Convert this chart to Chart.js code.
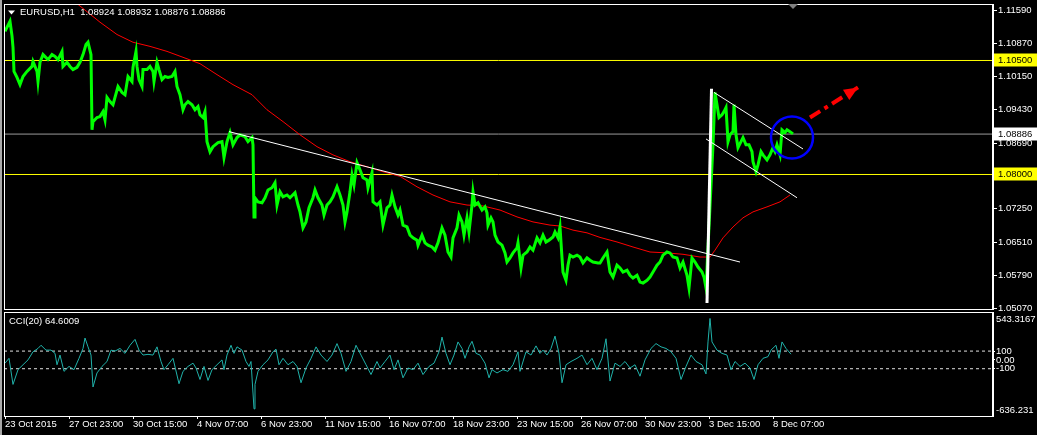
<!DOCTYPE html>
<html><head><meta charset="utf-8">
<script src="https://cdn.jsdelivr.net/npm/chart.js@4.4.1/dist/chart.umd.min.js"></script>
<style>
html,body{margin:0;padding:0;background:#000;width:1037px;height:435px;overflow:hidden;}
#c1{position:absolute;left:0;top:0;}
#c2{position:absolute;left:0;top:311px;}
#frame{position:absolute;left:0;top:0;width:2px;height:435px;background:#a8a8a8;}
</style></head><body>
<canvas id="c1" width="1037" height="311"></canvas>
<canvas id="c2" width="1037" height="124"></canvas>
<div id="frame"></div>
<script>
// ---------- DATA ----------
const symbolHeader = 'EURUSD,H1  1.08924 1.08932 1.08876 1.08886';
const cciTitle = 'CCI(20) 64.6009';

const xTickBars = [0,64,128,192,256,320,384,448,512,576,640,704,768];
const xTickLabels = ['23 Oct 2015','27 Oct 23:00','30 Oct 15:00','4 Nov 07:00','6 Nov 23:00','11 Nov 15:00','16 Nov 07:00','18 Nov 23:00','23 Nov 15:00','26 Nov 07:00','30 Nov 23:00','3 Dec 15:00','8 Dec 07:00'];

const priceTicks = [1.1159,1.1087,1.1015,1.0943,1.0869,1.0725,1.0651,1.0579,1.0507];
const priceMin = 1.0505, priceMax = 1.11739;
const yellowLevels = [1.105, 1.08];
const currentPrice = 1.08886;

const priceBars = [0,5,7,8,9,12,15,18,22,27,28,32,33,35,38,43,47,50,53,57,58,62,65,68,72,75,78,81,83,86,87,88,92,95,98,100,102,105,108,110,113,117,120,123,127,128,131,132,134,137,138,142,145,148,149,152,154,157,160,163,167,170,172,175,178,180,183,187,190,193,195,198,200,202,205,208,213,217,219,222,225,228,232,235,240,243,247,248,249,250,253,257,260,263,267,270,272,275,278,282,285,290,293,295,298,301,304,308,310,313,317,319,322,325,328,332,335,338,340,342,345,347,349,352,355,358,362,363,367,368,372,375,378,382,385,387,390,393,395,398,402,405,408,412,413,417,420,423,427,430,433,437,440,443,446,448,452,454,457,459,462,464,467,468,470,473,477,480,482,483,486,488,490,493,497,500,502,505,508,512,513,516,518,522,525,528,532,535,538,541,544,548,550,553,555,557,558,561,563,565,568,572,575,578,582,585,588,593,595,598,602,605,608,612,615,618,622,625,628,632,635,638,642,645,648,652,655,658,662,665,668,672,675,678,682,684,687,690,693,697,699,701,708,710,712,714,717,719,721,723,725,728,729,731,733,736,738,741,744,747,748,751,753,756,758,762,765,768,770,772,775,777,780,782,785,788];
const priceValues = [1.1114,1.1136,1.1104,1.1079,1.1026,1.1013,1.0997,1.1015,1.1026,1.1037,1.1048,1.1026,1.1004,1.1046,1.1063,1.1052,1.1063,1.1059,1.1052,1.1070,1.1037,1.1046,1.1037,1.1030,1.1035,1.1046,1.1063,1.1085,1.1090,1.1063,1.0898,1.0916,1.0925,1.0927,1.0938,1.0920,1.0969,1.0960,1.0953,1.0969,1.0993,1.0980,1.0975,1.1015,1.1004,1.1035,1.1070,1.1037,1.1008,1.0993,1.1030,1.1030,1.1037,1.1026,1.1004,1.1046,1.1030,1.1008,1.1015,1.1013,1.1015,1.1026,1.0993,1.0975,1.0942,1.0953,1.0960,1.0953,1.0942,1.0949,1.0931,1.0925,1.0938,1.0872,1.0850,1.0861,1.0870,1.0872,1.0837,1.0872,1.0892,1.0865,1.0881,1.0887,1.0883,1.0872,1.0881,1.0865,1.0707,1.0749,1.0740,1.0738,1.0749,1.0766,1.0771,1.0782,1.0733,1.0762,1.0751,1.0755,1.0749,1.0760,1.0733,1.0718,1.0683,1.0696,1.0727,1.0749,1.0766,1.0749,1.0733,1.0711,1.0733,1.0740,1.0751,1.0773,1.0755,1.0733,1.0696,1.0718,1.0762,1.0799,1.0777,1.0826,1.0810,1.0793,1.0788,1.0771,1.0804,1.0740,1.0733,1.0740,1.0689,1.0727,1.0733,1.0755,1.0729,1.0711,1.0722,1.0689,1.0685,1.0667,1.0661,1.0656,1.0645,1.0667,1.0650,1.0645,1.0641,1.0634,1.0650,1.0683,1.0667,1.0630,1.0619,1.0661,1.0683,1.0711,1.0696,1.0667,1.0705,1.0674,1.0733,1.0762,1.0733,1.0738,1.0722,1.0729,1.0716,1.0689,1.0705,1.0696,1.0667,1.0652,1.0645,1.0628,1.0608,1.0617,1.0628,1.0639,1.0650,1.0595,1.0623,1.0630,1.0641,1.0634,1.0661,1.0650,1.0667,1.0652,1.0656,1.0663,1.0674,1.0661,1.0685,1.0617,1.0586,1.0568,1.0601,1.0623,1.0619,1.0623,1.0619,1.0606,1.0617,1.0612,1.0608,1.0606,1.0606,1.0617,1.0630,1.0586,1.0575,1.0601,1.0595,1.0586,1.0590,1.0579,1.0573,1.0579,1.0564,1.0562,1.0568,1.0575,1.0586,1.0601,1.0608,1.0623,1.0630,1.0628,1.0619,1.0617,1.0595,1.0608,1.0579,1.0551,1.0617,1.0608,1.0597,1.0586,1.0575,1.0551,1.0865,1.0980,1.0953,1.0925,1.0931,1.0938,1.0947,1.0872,1.0887,1.0894,1.0953,1.0887,1.0859,1.0872,1.0881,1.0865,1.0865,1.0850,1.0828,1.0806,1.0821,1.0850,1.0843,1.0832,1.0843,1.0859,1.0850,1.0865,1.0843,1.0898,1.0892,1.0898,1.0894,1.0889];

const maBars = [62,73,95,112,128,145,162,178,195,212,228,247,262,278,295,312,328,345,362,378,395,412,428,445,462,478,495,512,528,545,555,568,582,595,612,628,645,662,678,695,705,710,718,728,738,748,762,775,785];
const maValues = [1.1200,1.1173,1.1134,1.1107,1.1090,1.1081,1.1070,1.1057,1.1043,1.1019,1.0997,1.0975,1.0942,1.0916,1.0887,1.0861,1.0843,1.0828,1.0817,1.0806,1.0796,1.0773,1.0755,1.0740,1.0733,1.0731,1.0722,1.0707,1.0696,1.0689,1.0687,1.0678,1.0672,1.0662,1.0652,1.0641,1.0630,1.0628,1.0625,1.0619,1.0619,1.0634,1.0661,1.0685,1.0705,1.0718,1.0729,1.0740,1.0755];

const trendBars = [224, 735];      const trendValues = [1.0894, 1.0608];
const poleBars = [702, 706.5];     const poleValues = [1.0518, 1.0988];
const chanUpperBars = [709, 798];  const chanUpperValues = [1.0980, 1.0856];
const chanLowerBars = [701, 792];  const chanLowerValues = [1.0878, 1.0749];
const arrowBars = [805, 853];      const arrowValues = [1.0925, 1.0991];
const circleBars = [787];          const circleValues = [1.0881];

const cciBars = [0,4,8,13,18,23,28,33,36,41,46,50,52,55,59,64,69,74,78,80,83,86,88,92,97,102,106,110,115,120,125,130,134,138,143,148,152,156,159,163,168,174,178,183,188,191,195,199,203,207,212,217,219,222,226,229,232,237,241,244,246,249,250,253,258,263,268,271,274,278,283,288,292,296,301,306,311,316,322,327,332,336,341,346,351,356,361,366,372,375,380,385,389,393,398,403,408,413,418,424,429,434,437,441,445,449,453,457,460,464,467,471,475,480,484,487,492,498,503,508,513,515,521,526,531,535,538,542,546,550,554,557,561,566,572,577,582,587,592,597,601,605,610,615,620,625,630,635,640,646,651,656,661,666,671,676,681,686,691,697,701,703,705,707,712,717,722,726,730,735,740,745,749,753,758,763,766,771,774,777,781,786];
const cciValues = [-37,18,-278,-111,-55,0,92,130,166,111,111,74,-55,55,-130,-74,-111,18,130,248,148,55,-307,-148,-74,-18,111,100,130,74,166,233,111,55,63,55,148,-18,-111,-55,18,-270,-130,-74,-37,-92,-222,-74,-233,-111,-55,0,-111,55,166,74,148,111,-18,-74,-18,-555,-278,-130,-55,0,92,122,-55,18,-55,-18,-74,-259,-92,18,148,55,-18,55,185,74,-130,-18,166,55,-55,-166,-18,-92,-18,55,-111,0,-203,-92,-111,-37,-166,-74,-37,92,259,74,-55,55,204,130,18,148,211,74,55,-37,-203,-111,-148,-111,-130,-55,92,-130,92,55,159,74,111,55,130,270,74,-259,-55,-18,18,55,-55,18,-111,18,240,-240,-37,-74,-18,-92,-55,-185,0,130,185,148,130,92,18,-222,-74,55,-18,-55,-159,204,470,204,111,74,55,-111,-18,-74,-37,-92,-222,-55,18,37,111,166,18,204,130,65];

const cciMax = 543.3167, cciMin = -636.231;
const cciLevels = [100, -100];
const cciTickValues = [100, 0, -100];
const cciTickLabels = ['100', '0.00', '-100'];

// ---------- HELPERS ----------
const zip = (xs, ys) => xs.map((x, i) => ({x, y: ys[i]}));
const X_MIN = -1, X_MAX = 988;
const FONT = "'Liberation Sans', Arial, sans-serif";
const FS = 9.5;
const font = {family: FONT, size: FS};

// ---------- MAIN CHART ----------
const mainPlugin = {
  id: 'mainDeco',
  afterDraw(chart) {
    const ctx = chart.ctx, a = chart.chartArea, ys = chart.scales.y;
    ctx.save();
    ctx.strokeStyle = '#ffffff'; ctx.lineWidth = 1;
    ctx.strokeRect(a.left + 0.5, a.top + 0.5, a.right - a.left - 1, a.bottom - a.top);
    // arrow head
    const am = chart.getDatasetMeta(chart.data.datasets.findIndex(d => d.label === 'arrow'));
    const p0 = am.data[0], p1 = am.data[1];
    const ang = Math.atan2(p1.y - p0.y, p1.x - p0.x);
    const L = 14, W = 6;
    ctx.fillStyle = '#ff0000';
    ctx.beginPath();
    ctx.moveTo(p1.x, p1.y);
    ctx.lineTo(p1.x - L*Math.cos(ang) - W*Math.sin(ang), p1.y - L*Math.sin(ang) + W*Math.cos(ang));
    ctx.lineTo(p1.x - L*Math.cos(ang) + W*Math.sin(ang), p1.y - L*Math.sin(ang) - W*Math.cos(ang));
    ctx.closePath(); ctx.fill();
    // highlighted price labels
    ctx.font = FS + 'px ' + FONT;
    ctx.textBaseline = 'middle'; ctx.textAlign = 'left';
    const hl = [[yellowLevels[0], '#ffff00'], [currentPrice, '#ffffff'], [yellowLevels[1], '#ffff00']];
    hl.forEach(([v, c]) => {
      const y = Math.round(ys.getPixelForValue(v)) - 0.5;
      ctx.fillStyle = c; ctx.fillRect(994, y - 6, 43, 13);
      ctx.fillStyle = '#000'; ctx.fillText(v.toFixed(5), 998, y + 0.5);
    });
    // header
    ctx.fillStyle = '#ffffff';
    ctx.beginPath(); ctx.moveTo(8, 10.5); ctx.lineTo(15, 10.5); ctx.lineTo(11.5, 14.5); ctx.closePath(); ctx.fill();
    ctx.fillText(symbolHeader, 20, 12.5);
    // chart shift marker
    ctx.fillStyle = '#808080';
    ctx.beginPath(); ctx.moveTo(788, 4); ctx.lineTo(798, 4); ctx.lineTo(793, 9); ctx.closePath(); ctx.fill();
    ctx.restore();
  }
};

const hline = (v, color, label) => ({label, data: [{x: X_MIN, y: v}, {x: X_MAX, y: v}], borderColor: color, borderWidth: 1, pointRadius: 0, order: 10});

new Chart(document.getElementById('c1'), {
  type: 'line',
  data: {
    datasets: [
      hline(yellowLevels[0], '#ffff00', 'y1'),
      hline(yellowLevels[1], '#ffff00', 'y2'),
      hline(currentPrice, '#9a9a9a', 'cur'),
      {label: 'ma', data: zip(maBars, maValues), borderColor: '#ff0000', borderWidth: 1, pointRadius: 0, order: 8},
      {label: 'price', data: zip(priceBars, priceValues), borderColor: '#00ff00', borderWidth: 3, pointRadius: 0, order: 6},
      {label: 'trend', data: zip(trendBars, trendValues), borderColor: '#ffffff', borderWidth: 1, pointRadius: 0, order: 4},
      {label: 'chanU', data: zip(chanUpperBars, chanUpperValues), borderColor: '#ffffff', borderWidth: 1, pointRadius: 0, order: 4},
      {label: 'chanL', data: zip(chanLowerBars, chanLowerValues), borderColor: '#ffffff', borderWidth: 1, pointRadius: 0, order: 4},
      {label: 'pole', data: zip(poleBars, poleValues), borderColor: '#ffffff', borderWidth: 3, pointRadius: 0, order: 3},
      {label: 'circle', data: zip(circleBars, circleValues), showLine: false, pointRadius: 21, pointBorderWidth: 2.5, pointBorderColor: '#0000ff', pointBackgroundColor: 'rgba(0,0,0,0)', borderColor: '#0000ff', order: 2},
      {label: 'arrow', data: zip(arrowBars, arrowValues), borderColor: '#ff0000', borderWidth: 4, borderDash: [12, 5, 4, 5], pointRadius: 0, order: 1}
    ]
  },
  options: {
    responsive: false, animation: false, events: [],
    layout: {autoPadding: false, padding: {left: 4, top: 4, right: 0, bottom: 2}},
    plugins: {legend: {display: false}, tooltip: {enabled: false}},
    elements: {line: {tension: 0}},
    scales: {
      x: {type: 'linear', display: false, min: X_MIN, max: X_MAX},
      y: {
        type: 'linear', position: 'right', min: priceMin, max: priceMax,
        afterBuildTicks: s => { s.ticks = priceTicks.map(v => ({value: v})); },
        afterFit: s => { s.width = 44; s.paddingTop = 0; s.paddingBottom = 0; },
        ticks: {color: '#ffffff', font, padding: 1, autoSkip: false, callback: v => Number(v).toFixed(5)},
        grid: {drawOnChartArea: false, drawTicks: true, tickLength: 4, color: '#ffffff'},
        border: {display: true, color: '#ffffff'}
      }
    }
  },
  plugins: [mainPlugin]
});

// ---------- CCI CHART ----------
const cciPlugin = {
  id: 'cciDeco',
  afterDraw(chart) {
    const ctx = chart.ctx, a = chart.chartArea;
    ctx.save();
    ctx.strokeStyle = '#ffffff'; ctx.lineWidth = 1;
    ctx.strokeRect(a.left + 0.5, a.top + 0.5, a.right - a.left - 1, a.bottom - a.top);
    ctx.font = FS + 'px ' + FONT;
    ctx.fillStyle = '#ffffff'; ctx.textBaseline = 'middle'; ctx.textAlign = 'left';
    ctx.fillText(cciTitle, 9, 10.5);
    const ys = chart.scales.y;
    ctx.fillText(cciMax.toFixed(4), 996, ys.getPixelForValue(cciMax) + 7);
    ctx.fillText(cciMin.toFixed(3), 996, ys.getPixelForValue(cciMin) - 6);
    ctx.restore();
  }
};

new Chart(document.getElementById('c2'), {
  type: 'line',
  data: {
    datasets: [
      ...cciLevels.map(v => ({label: 'lvl' + v, data: [{x: X_MIN, y: v}, {x: X_MAX, y: v}], borderColor: '#e0e0e0', borderWidth: 1, borderDash: [3, 3], pointRadius: 0, order: 5})),
      {label: 'cci', data: zip(cciBars, cciValues), borderColor: '#20b2aa', borderWidth: 1, pointRadius: 0, order: 1}
    ]
  },
  options: {
    responsive: false, animation: false, events: [],
    layout: {autoPadding: false, padding: {left: 4, top: 1, right: 0, bottom: 0}},
    plugins: {legend: {display: false}, tooltip: {enabled: false}},
    elements: {line: {tension: 0}},
    scales: {
      x: {
        type: 'linear', position: 'bottom', min: X_MIN, max: X_MAX,
        afterBuildTicks: s => { s.ticks = xTickBars.map(v => ({value: v})); },
        afterFit: s => { s.height = 19; s.paddingLeft = 0; s.paddingRight = 0; },
        ticks: {color: '#ffffff', font, padding: 0, align: 'start', autoSkip: false, maxRotation: 0, minRotation: 0,
                callback: (v, i) => xTickLabels[i]},
        grid: {drawOnChartArea: false, drawTicks: true, tickLength: 3, color: '#ffffff'},
        border: {display: true, color: '#ffffff'}
      },
      y: {
        type: 'linear', position: 'right', min: cciMin, max: cciMax,
        afterBuildTicks: s => { s.ticks = cciTickValues.map(v => ({value: v})); },
        afterFit: s => { s.width = 44; s.paddingTop = 0; s.paddingBottom = 0; },
        ticks: {color: '#ffffff', font, padding: 1, autoSkip: false, callback: (v, i) => cciTickLabels[i]},
        grid: {drawOnChartArea: false, drawTicks: true, tickLength: 2, color: '#ffffff'},
        border: {display: true, color: '#ffffff'}
      }
    }
  },
  plugins: [cciPlugin]
});
</script>
</body></html>
